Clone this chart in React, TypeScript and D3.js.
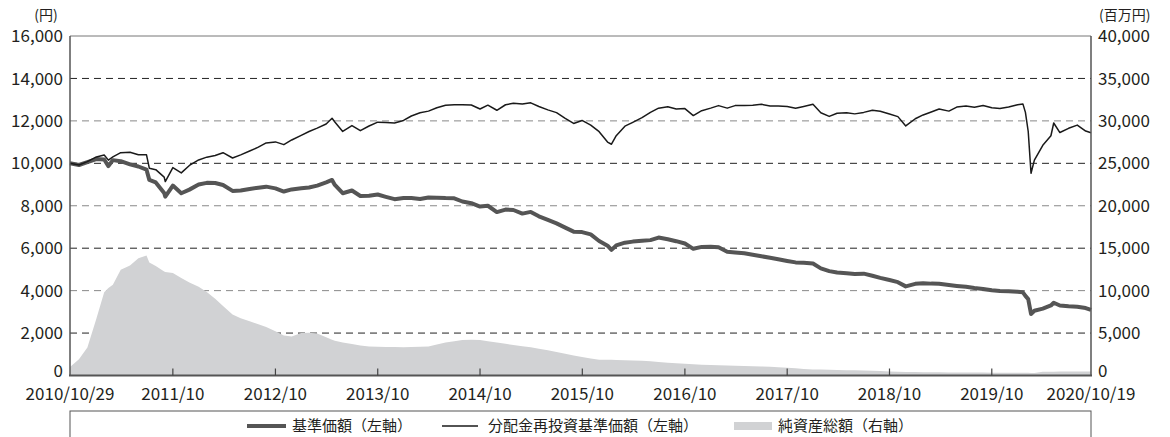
import React from 'react';
import * as d3 from 'd3';

// 日付（月末＋主な変動日）
const dates = [
  '2010-10-29', '2010-11-30', '2010-12-30', '2011-01-31', '2011-02-28', '2011-03-15', '2011-03-31', '2011-04-28',
  '2011-05-31', '2011-06-30', '2011-07-29', '2011-08-08', '2011-08-31', '2011-09-30', '2011-10-04', '2011-10-31',
  '2011-11-30', '2011-12-29', '2012-01-31', '2012-02-29', '2012-03-30', '2012-04-27', '2012-05-31', '2012-06-29',
  '2012-07-31', '2012-08-31', '2012-09-28', '2012-10-31', '2012-11-30', '2012-12-28', '2013-01-31', '2013-02-28',
  '2013-03-29', '2013-04-30', '2013-05-21', '2013-05-31', '2013-06-28', '2013-07-31', '2013-08-30', '2013-09-30',
  '2013-10-31', '2013-11-29', '2013-12-30', '2014-01-31', '2014-02-28', '2014-03-31', '2014-04-30', '2014-05-30',
  '2014-06-30', '2014-07-31', '2014-08-29', '2014-09-30', '2014-10-31', '2014-11-28', '2014-12-30', '2015-01-30',
  '2015-02-27', '2015-03-31', '2015-04-30', '2015-05-29', '2015-06-30', '2015-07-31', '2015-08-31', '2015-09-30',
  '2015-10-30', '2015-11-30', '2015-12-30', '2016-01-29', '2016-02-12', '2016-02-29', '2016-03-31', '2016-04-28',
  '2016-05-31', '2016-06-30', '2016-07-29', '2016-08-31', '2016-09-30', '2016-10-31', '2016-11-30', '2016-12-30',
  '2017-01-31', '2017-02-28', '2017-03-31', '2017-04-28', '2017-05-31', '2017-06-30', '2017-07-31', '2017-08-31',
  '2017-09-29', '2017-10-31', '2017-11-30', '2017-12-29', '2018-01-31', '2018-02-28', '2018-03-30', '2018-04-27',
  '2018-05-31', '2018-06-29', '2018-07-31', '2018-08-31', '2018-09-28', '2018-10-31', '2018-11-30', '2018-12-28',
  '2019-01-31', '2019-02-28', '2019-03-29', '2019-04-26', '2019-05-31', '2019-06-28', '2019-07-31', '2019-08-30',
  '2019-09-30', '2019-10-31', '2019-11-29', '2019-12-30', '2020-01-31', '2020-02-19', '2020-02-28', '2020-03-09',
  '2020-03-19', '2020-03-31', '2020-04-30', '2020-05-29', '2020-06-08', '2020-06-30', '2020-07-31', '2020-08-31',
  '2020-09-30', '2020-10-19',
];

// 基準価額（円）
const basePrice = [
  10000, 9920, 10060, 10200, 10180, 9870, 10150, 10100,
  9950, 9850, 9700, 9220, 9100, 8600, 8430, 8950,
  8590, 8760, 9000, 9080, 9070, 8980, 8700, 8720,
  8790, 8850, 8900, 8820, 8670, 8770, 8820, 8860,
  8950, 9100, 9215, 8980, 8590, 8720, 8460, 8470,
  8530, 8420, 8310, 8360, 8360, 8320, 8390, 8380,
  8360, 8350, 8200, 8120, 7960, 8000, 7700, 7820,
  7800, 7630, 7710, 7500, 7330, 7170, 6970, 6780,
  6760, 6650, 6340, 6120, 5920, 6130, 6260, 6310,
  6350, 6380, 6500, 6420, 6330, 6220, 5970, 6060,
  6070, 6040, 5830, 5800, 5760, 5690, 5620, 5550,
  5480, 5400, 5330, 5310, 5280, 5050, 4920, 4850,
  4820, 4780, 4800, 4700, 4600, 4500, 4400, 4200,
  4320, 4350, 4330, 4320, 4260, 4220, 4180, 4120,
  4080, 4020, 3980, 3970, 3950, 3920, 3750, 3600,
  2900, 3050, 3150, 3300, 3430, 3300, 3260, 3240,
  3180, 3090,
];

// 分配金再投資基準価額（円）
const reinvestPrice = [
  10000, 9920, 10080, 10300, 10390, 10150, 10300, 10500,
  10520, 10400, 10400, 9770, 9700, 9350, 9140, 9800,
  9550, 9900, 10160, 10290, 10370, 10500, 10250, 10400,
  10580, 10760, 10960, 11010, 10880, 11100, 11320, 11500,
  11660, 11850, 12120, 11950, 11500, 11780, 11540, 11760,
  11940, 11920, 11900, 12020, 12230, 12380, 12460, 12620,
  12740, 12760, 12760, 12750, 12560, 12740, 12500, 12760,
  12830, 12790, 12850, 12680, 12520, 12390, 12120, 11880,
  12020, 11800, 11490, 11000, 10900, 11300, 11750, 11930,
  12150, 12400, 12600, 12670, 12560, 12580, 12250, 12480,
  12600, 12720, 12600, 12720, 12730, 12740, 12780, 12700,
  12700, 12680, 12600, 12680, 12780, 12380, 12210, 12360,
  12380, 12330, 12400, 12500, 12450, 12320, 12200, 11760,
  12100, 12280, 12420, 12560, 12460, 12650, 12700, 12640,
  12720, 12620, 12580, 12650, 12760, 12800, 12400, 11500,
  9530, 10150, 10850, 11300, 11900, 11450, 11650, 11800,
  11520, 11440,
];

// 純資産総額（百万円）
const netAssets = [
  1000, 1900, 3300, 6700, 9800, 10300, 10700, 12450,
  12950, 13800, 14150, 13300, 12900, 12250, 12200, 12080,
  11500, 10950, 10450, 9850, 9050, 8200, 7200, 6750,
  6380, 6050, 5720, 5200, 4720, 4600, 5000, 5050,
  4950, 4500, 4200, 4080, 3900, 3700, 3520, 3420,
  3380, 3360, 3350, 3340, 3350, 3380, 3420, 3650,
  3900, 4050, 4180, 4200, 4180, 4050, 3890, 3750,
  3580, 3450, 3330, 3150, 2970, 2780, 2570, 2370,
  2170, 2000, 1850, 1850, 1850, 1830, 1800, 1780,
  1750, 1680, 1600, 1500, 1430, 1380, 1320, 1260,
  1230, 1200, 1180, 1160, 1130, 1100, 1060, 1020,
  980, 920, 850, 770, 720, 700, 680, 660,
  630, 610, 580, 550, 520, 480, 440, 410,
  400, 390, 380, 370, 360, 350, 350, 340,
  340, 330, 330, 330, 330, 320, 320, 310,
  300, 300, 440, 450, 450, 460, 460, 460,
  460, 460,
];

const leftTicks = [0, 2000, 4000, 6000, 8000, 10000, 12000, 14000, 16000];
const rightTicks = [0, 5000, 10000, 15000, 20000, 25000, 30000, 35000, 40000];
const xTickLabels = ['2011/10', '2012/10', '2013/10', '2014/10', '2015/10', '2016/10', '2017/10', '2018/10', '2019/10'];
const startLabel = '2010/10/29';
const endLabel = '2020/10/19';

const W = 1170;
const H = 437;
const margin = { top: 36, right: 79, bottom: 61.5, left: 70 };
const FONT = "'Noto Sans CJK JP', 'Noto Sans', sans-serif";
const TEXT = '#231f20';

const parse = d3.timeParse('%Y-%m-%d');

const App = () => {
  const x0 = margin.left;
  const x1 = W - margin.right;
  const y0 = H - margin.bottom;
  const y1 = margin.top;

  const rows = dates.map((d, i) => ({
    date: parse(d) as Date,
    base: basePrice[i],
    reinvest: reinvestPrice[i],
    assets: netAssets[i],
  }));

  const x = d3.scaleTime()
    .domain([rows[0].date, rows[rows.length - 1].date])
    .range([x0, x1]);
  const yL = d3.scaleLinear().domain([0, 16000]).range([y0, y1]);
  const yR = d3.scaleLinear().domain([0, 40000]).range([y0, y1]);

  const area = d3.area<any>()
    .x(d => x(d.date))
    .y0(y0)
    .y1(d => yR(d.assets));
  const baseLine = d3.line<any>().x(d => x(d.date)).y(d => yL(d.base));
  const reinvestLine = d3.line<any>().x(d => x(d.date)).y(d => yL(d.reinvest));

  const fmt = d3.format(',');
  const xTicks = xTickLabels.map(l => {
    const [yy, mm] = l.split('/').map(Number);
    return { label: l, date: new Date(yy, mm - 1, 31) };
  });

  // the 0 labels sit a little above the baseline, clear of the date labels
  const labelY = (py: number, t: number) => (t === 0 ? py - 5 : py);

  return (
    <svg width={W} height={H} style={{ position: 'absolute', left: 0, top: 0, background: '#fff' }}
      fontFamily={FONT}>
      {/* grid */}
      {leftTicks.filter(t => t > 0 && t < 16000).map(t => (
        <line key={t} x1={x0} x2={x1} y1={yL(t)} y2={yL(t)}
          stroke={(t / 2000) % 2 === 0 ? '#888' : '#222'} strokeWidth={1} strokeDasharray="7,5" />
      ))}
      <line x1={x0} x2={x1} y1={y1} y2={y1} stroke="#777" strokeWidth={1} />

      {/* 純資産総額 */}
      <path d={area(rows) || ''} fill="#d1d2d4" />

      {/* lines */}
      <path d={baseLine(rows) || ''} fill="none" stroke="#555" strokeWidth={4} strokeLinejoin="round" />
      <path d={reinvestLine(rows) || ''} fill="none" stroke="#1a1a1a" strokeWidth={1.5} strokeLinejoin="round" />

      {/* axes */}
      <line x1={x0} x2={x0} y1={y1} y2={y0} stroke="#555" strokeWidth={1.5} />
      <line x1={x1} x2={x1} y1={y1} y2={y0} stroke="#555" strokeWidth={1.5} />
      <line x1={x0 - 1} x2={x1 + 1} y1={y0} y2={y0} stroke="#555" strokeWidth={2} />
      {xTicks.map(t => (
        <line key={t.label} x1={x(t.date)} x2={x(t.date)} y1={y0} y2={y0 - 7} stroke="#444" strokeWidth={1.2} />
      ))}

      {/* left axis labels */}
      {leftTicks.map(t => (
        <text key={t} x={x0 - 7} y={labelY(yL(t), t)} dy="0.36em" textAnchor="end" fontSize={17} fill={TEXT}>{fmt(t)}</text>
      ))}
      <text x={46} y={15} dy="0.36em" textAnchor="middle" fontSize={14} fill={TEXT}>(円)</text>

      {/* right axis labels */}
      {rightTicks.map(t => (
        <text key={t} x={x1 + 7} y={labelY(yR(t), t)} dy="0.36em" textAnchor="start" fontSize={17} fill={TEXT}>{fmt(t)}</text>
      ))}
      <text x={1099} y={15} dy="0.36em" textAnchor="start" fontSize={14} fill={TEXT}>(百万円)</text>

      {/* x labels */}
      <text x={x0} y={400} textAnchor="middle" fontSize={17} fill={TEXT}>{startLabel}</text>
      {xTicks.map(t => (
        <text key={t.label} x={x(t.date)} y={400} textAnchor="middle" fontSize={17} fill={TEXT}>{t.label}</text>
      ))}
      <text x={x1} y={400} textAnchor="middle" fontSize={17} fill={TEXT}>{endLabel}</text>

      {/* legend */}
      <rect x={x0} y={411} width={x1 - x0} height={40} fill="none" stroke="#555" strokeWidth={1} />
      <line x1={247} x2={286} y1={426} y2={426} stroke="#555" strokeWidth={4} />
      <text x={292} y={426} dy="0.36em" fontSize={15} fill={TEXT}>基準価額（左軸）</text>
      <line x1={442} x2={478} y1={426} y2={426} stroke="#1a1a1a" strokeWidth={1.5} />
      <text x={488} y={426} dy="0.36em" fontSize={15} fill={TEXT}>分配金再投資基準価額（左軸）</text>
      <rect x={734} y={422} width={38} height={8} fill="#d1d2d4" />
      <text x={778} y={426} dy="0.36em" fontSize={15} fill={TEXT}>純資産総額（右軸）</text>
    </svg>
  );
};

export default App;
